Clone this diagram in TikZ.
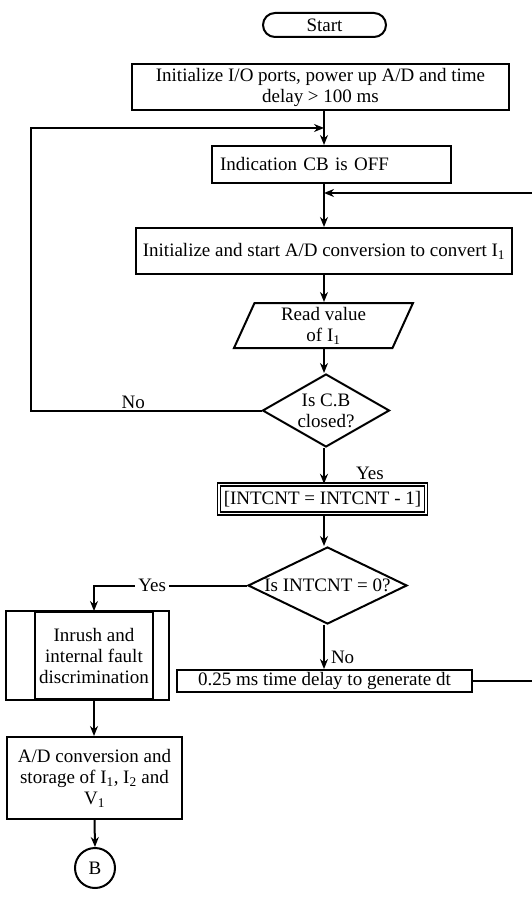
\documentclass[tikz,border=0pt]{standalone}
\usepackage{fontspec}
\setmainfont{Liberation Serif}
\usetikzlibrary{positioning, shapes.geometric, arrows.meta}

\begin{document}
\begin{tikzpicture}[x=1pt, y=-1pt,
  font=\fontsize{19}{21}\selectfont,
  line width=2pt,
  box/.style={draw, rectangle, inner sep=0pt, align=center},
  dec/.style={draw, diamond, inner sep=0pt},
  flow/.style={-{Stealth[length=10pt, width=8pt]}},
  lbl/.style={inner sep=1pt}]
\useasboundingbox (0,0) rectangle (532,901);

% main axis and loop corners
\coordinate (jn1) at (324,128);
\coordinate (jn2) at (324,193);
\coordinate (loopL) at (31,128);
\coordinate (loopR) at (533,193);

\node[box, rounded corners=12pt, minimum width=123pt, minimum height=24pt] (start) at (324.5,25) {Start};
\node[box, minimum width=377pt, minimum height=46pt] (init) at (320.5,87)
  {Initialize I/O ports, power up A/D and time\\delay > 100 ms};
\node[box, text width=223pt, inner xsep=8pt, align=left, minimum height=37pt] (cboff) at (331.5,164.5)
  {Indication CB is OFF};
\node[box, minimum width=376pt, minimum height=46pt] (adconv) at (324,251)
  {Initialize and start A/D conversion to convert I\textsubscript{1}};
\node[draw, trapezium, trapezium left angle=61, trapezium right angle=119,
  trapezium stretches body, inner sep=0pt, align=center,
  minimum width=179pt, minimum height=45pt] (readval) at (323.5,325.5)
  {Read value\\of I\textsubscript{1}};
\node[dec, minimum width=127pt, minimum height=73pt,
  label={[align=center, lbl]center:{Is C.B\\closed?}}] (closed) at (326,410.5) {};
\node[box, double, line width=1.4pt, double distance=1.8pt,
  minimum width=207pt, minimum height=29pt] (intcnt) at (322.5,499)
  {[INTCNT = INTCNT - 1]};
\node[dec, minimum width=159pt, minimum height=77pt,
  label={[lbl]center:{Is INTCNT = 0?}}] (cntzero) at (327.5,585.5) {};
\node[box, minimum width=295pt, minimum height=22pt] (delay) at (324.5,681)
  {0.25 ms time delay to generate dt};
\node[box, minimum width=118pt, minimum height=87pt] (discrim) at (94,655.5)
  {Inrush and\\internal fault\\discrimination};
\draw ([xshift=-28pt]discrim.north west) rectangle ([xshift=15pt]discrim.south east);
\node[box, minimum width=175pt, minimum height=82pt] (adstore) at (94.5,778)
  {A/D conversion and\\storage of I\textsubscript{1}, I\textsubscript{2} and\\V\textsubscript{1}};
\node[draw, circle, inner sep=0pt, minimum size=40pt] (conB) at (95,868) {B};

% main line
\draw[flow] (init.south -| jn1) -- (cboff.north -| jn1);
\draw[flow] (cboff.south -| jn1) -- (adconv.north -| jn1);
\draw[flow] (adconv.south -| jn1) -- (readval.north -| jn1);
\draw[flow] (readval.south -| jn1) -- (closed.north -| jn1);
\draw[flow] (closed.south -| jn1) -- node[lbl, pos=0.7, right=30pt] {Yes} (intcnt.north -| jn1);
\draw[flow] (intcnt.south -| jn1) -- (cntzero.north -| jn1);
\draw[flow] (cntzero.south -| jn1) -- node[lbl, pos=0.74, right=5pt] {No} (delay.north -| jn1);

% loops back
\draw[flow] (closed.west) -- node[lbl, above, pos=0.556] {No} (closed.west -| loopL) |- (jn1);
\draw[flow] (delay.east) -- (delay.east -| loopR) |- (jn2);

% left branch
\draw[flow] (cntzero.west) -- node[fill=white, inner sep=3pt, pos=0.62] {Yes}
  (cntzero.west -| discrim.north) -- (discrim.north);
\draw[flow] (discrim.south) -- (adstore.north -| discrim.south);
\draw[flow] (adstore.south) -- (conB.north);
\end{tikzpicture}
\end{document}
